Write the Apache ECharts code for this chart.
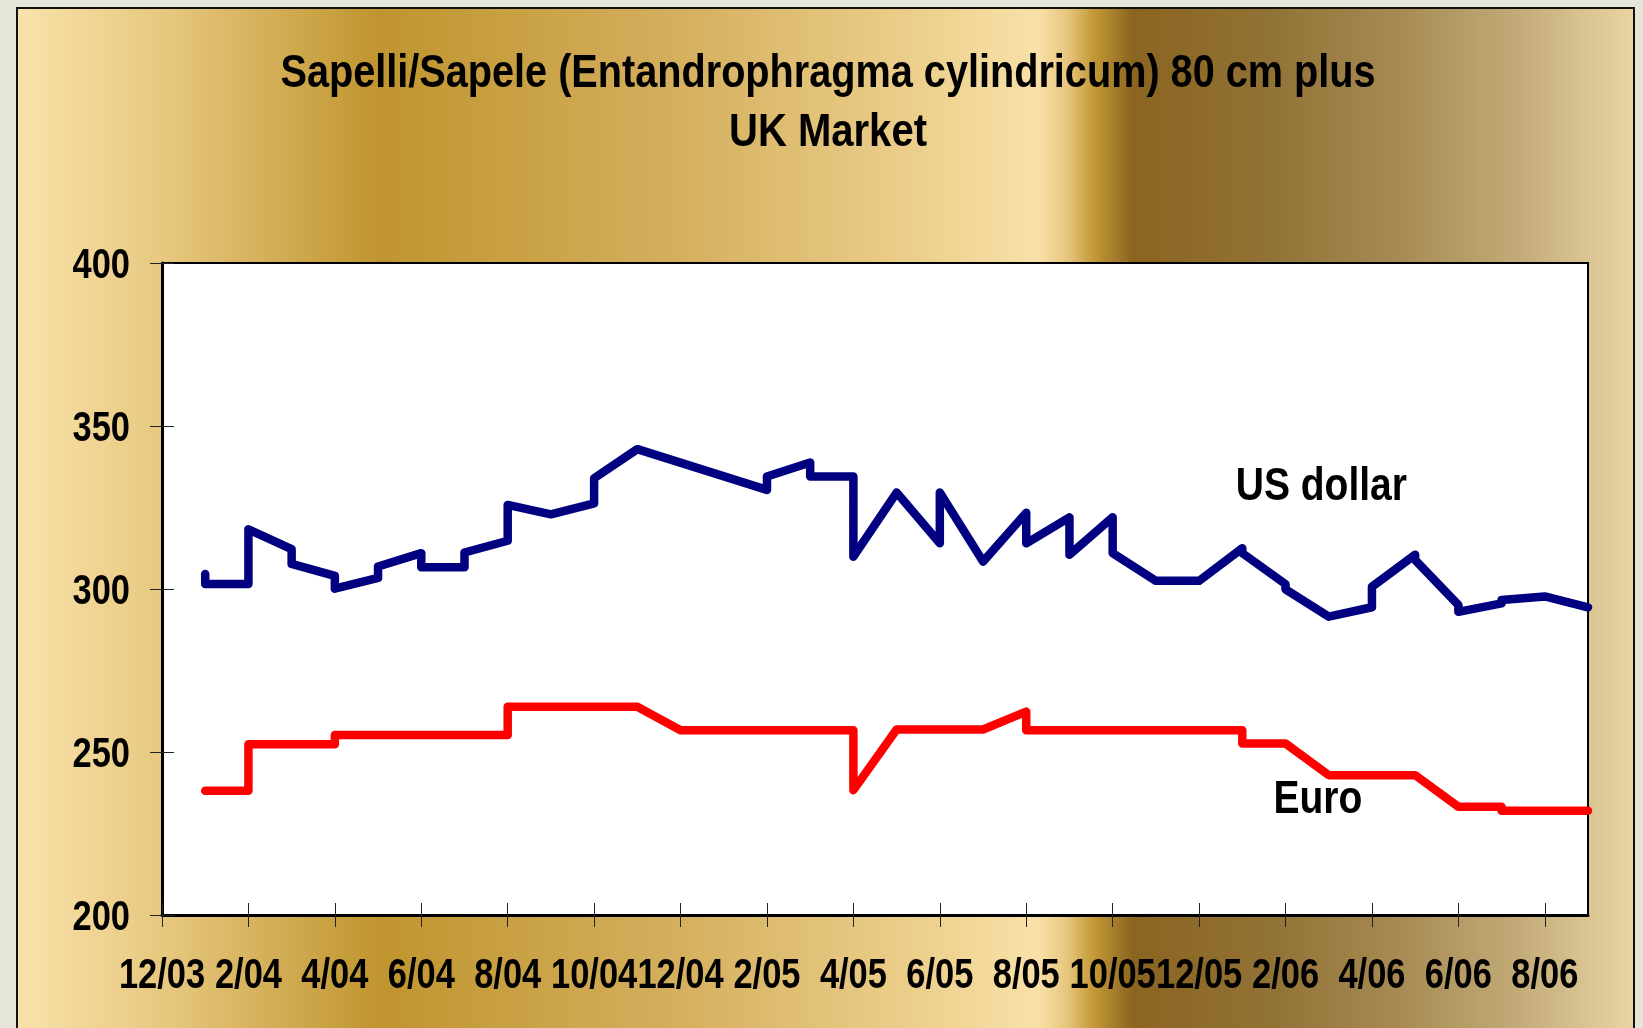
<!DOCTYPE html>
<html>
<head>
<meta charset="utf-8">
<title>Sapelli/Sapele UK Market</title>
<script src="https://cdn.jsdelivr.net/npm/echarts@6/dist/echarts.min.js"></script>
<style>
  html, body { margin: 0; padding: 0; width: 1643px; height: 1028px; overflow: hidden; background: #e5e6d9; }
  #frame {
    position: absolute; left: 16px; top: 7px; width: 1619px; height: 1040px;
    border: 2px solid #111; box-sizing: border-box;
    background: linear-gradient(to right,
      #f9e2aa 0px, #e6c77e 150px, #c0952f 361px, #d3ae5c 650px,
      #eccf8c 900px, #f8e1a8 1020px, #e6c57c 1050px, #c49a38 1075px,
      #8b6420 1115px, #917235 1250px, #a68a52 1380px, #c2ab78 1500px, #ebd6a3 1619px);
  }
  #chart { position: absolute; left: 0; top: 0; width: 1643px; height: 1028px; }
</style>
</head>
<body>
<div id="frame"></div>
<div id="chart"></div>
<script>
// months counted from 12/03 (0) to 9/06 (33)
var tickMonths = [0, 2, 4, 6, 8, 10, 12, 14, 16, 18, 20, 22, 24, 26, 28, 30, 32]
var tickLabels = ['12/03', '2/04', '4/04', '6/04', '8/04', '10/04', '12/04', '2/05', '4/05',
  '6/05', '8/05', '10/05', '12/05', '2/06', '4/06', '6/06', '8/06']
var yTicks = [200, 250, 300, 350, 400]

// US dollar price, month position and value (repeated month = vertical step)
var usdX = [1, 1, 2, 2, 3, 3, 4, 4, 5, 5, 6, 6, 7, 7, 8, 8, 9, 10, 10, 11, 14, 14, 15, 15, 16, 16,
  17, 18, 18, 19, 20, 20, 21, 21, 22, 22, 23, 24, 25, 25, 26, 26, 27, 28, 28, 29, 29, 30, 30, 31, 31, 32, 33]
var usdY = [304.6, 301.5, 301.5, 318.3, 312.2, 307.7, 304, 300.1, 303.4, 306.9, 311, 306.7, 306.7, 311.2,
  314.8, 325.8, 322.9, 326.3, 334, 342.9, 330.4, 334.5, 338.8, 334.5, 334.5, 309.9,
  329.6, 314, 329.6, 308.4, 323.4, 314, 322, 310.5, 322, 311, 302.5, 302.5, 312.5, 311,
  301.5, 299.9, 291.5, 294.4, 300.7, 310.5, 308.9, 295.1, 293, 295.6, 296.6, 297.7, 294.4]

// Euro price
var euroX = [1, 2, 2, 4, 4, 8, 8, 11, 12, 16, 16, 17, 19, 20, 20, 25, 25, 26, 27, 29, 30, 31, 31, 33]
var euroY = [238.1, 238.1, 252.4, 252.4, 255.2, 255.2, 263.9, 263.9, 256.7, 256.7, 238.3, 256.9,
  256.9, 262.4, 256.7, 256.7, 252.6, 252.6, 242.9, 242.9, 233.2, 233.2, 232, 232]

var seriesNames = ['US dollar', 'Euro']
var labelX = [26.83, 26.75]
var labelY = [332.2, 236.2]
var titleLines = ['Sapelli/Sapele (Entandrophragma cylindricum) 80 cm plus', 'UK Market']

// the original uses a narrow bold face; no narrow font here, so text is squeezed with scaleX
var font = '"Liberation Sans", Arial, sans-serif'
var midShift = 3 // 'middle' sits a little high compared with the caps

function pairs(xs, ys) {
  return xs.map(function(x, i) { return [x, ys[i]] })
}

function narrowText(text, x, y, size, squeeze, align) {
  return {
    type: 'text',
    x: x,
    y: y + midShift,
    scaleX: squeeze,
    silent: true,
    z: 10,
    style: {
      text: text,
      fontFamily: font,
      fontWeight: 'bold',
      fontSize: size,
      fill: '#000',
      align: align,
      verticalAlign: 'middle'
    }
  }
}

var chart = echarts.init(document.getElementById('chart'), null, { renderer: 'canvas' })

var xBase = {
  type: 'value',
  min: 0,
  max: 33,
  position: 'bottom',
  splitLine: { show: false },
  axisLabel: { show: false }
}
var yBase = {
  type: 'value',
  min: 200,
  max: 400,
  interval: 50,
  position: 'left',
  splitLine: { show: false },
  axisLabel: { show: false }
}

chart.setOption({
  animation: false,
  backgroundColor: 'transparent',
  grid: {
    left: 162,
    right: 55,
    top: 263,
    bottom: 113,
    show: true,
    backgroundColor: '#fff',
    borderColor: '#000',
    borderWidth: 2
  },
  xAxis: [
    Object.assign({}, xBase, {
      axisLine: { lineStyle: { color: '#000', width: 3 } },
      axisTick: { show: true, inside: false, length: 12, customValues: tickMonths, lineStyle: { color: '#222', width: 1 } }
    }),
    Object.assign({}, xBase, {
      axisLine: { show: false },
      axisTick: { show: true, inside: true, length: 12, customValues: tickMonths, lineStyle: { color: '#222', width: 1 } }
    })
  ],
  yAxis: [
    Object.assign({}, yBase, {
      axisLine: { show: true, lineStyle: { color: '#000', width: 3 } },
      axisTick: { show: true, inside: false, length: 12, lineStyle: { color: '#222', width: 1 } }
    }),
    Object.assign({}, yBase, {
      axisLine: { show: false },
      axisTick: { show: true, inside: true, length: 12, lineStyle: { color: '#222', width: 1 } }
    })
  ],
  series: [
    {
      name: seriesNames[0],
      type: 'line',
      data: pairs(usdX, usdY),
      showSymbol: false,
      symbol: 'none',
      lineStyle: { color: '#000080', width: 8.5, cap: 'round', join: 'round' },
      z: 3
    },
    {
      name: seriesNames[1],
      type: 'line',
      data: pairs(euroX, euroY),
      showSymbol: false,
      symbol: 'none',
      lineStyle: { color: '#ff0000', width: 8.5, cap: 'round', join: 'round' },
      z: 3
    }
  ]
})

// texts placed through the chart's own axes
var texts = []
texts.push(narrowText(titleLines[0], 828, 71, 46, 0.862, 'center'))
texts.push(narrowText(titleLines[1], 828, 130, 46, 0.87, 'center'))
tickMonths.forEach(function(m, i) {
  var px = chart.convertToPixel({ xAxisIndex: 0 }, m)
  texts.push(narrowText(tickLabels[i], px, 973, 42, 0.82, 'center'))
})
yTicks.forEach(function(v) {
  var py = chart.convertToPixel({ yAxisIndex: 0 }, v)
  texts.push(narrowText(String(v), 130, py, 42, 0.82, 'right'))
})
seriesNames.forEach(function(n, i) {
  var p = chart.convertToPixel({ gridIndex: 0 }, [labelX[i], labelY[i]])
  texts.push(narrowText(n, p[0], p[1], 47, 0.83, 'center'))
})
chart.setOption({ graphic: { elements: texts } })
</script>
</body>
</html>
